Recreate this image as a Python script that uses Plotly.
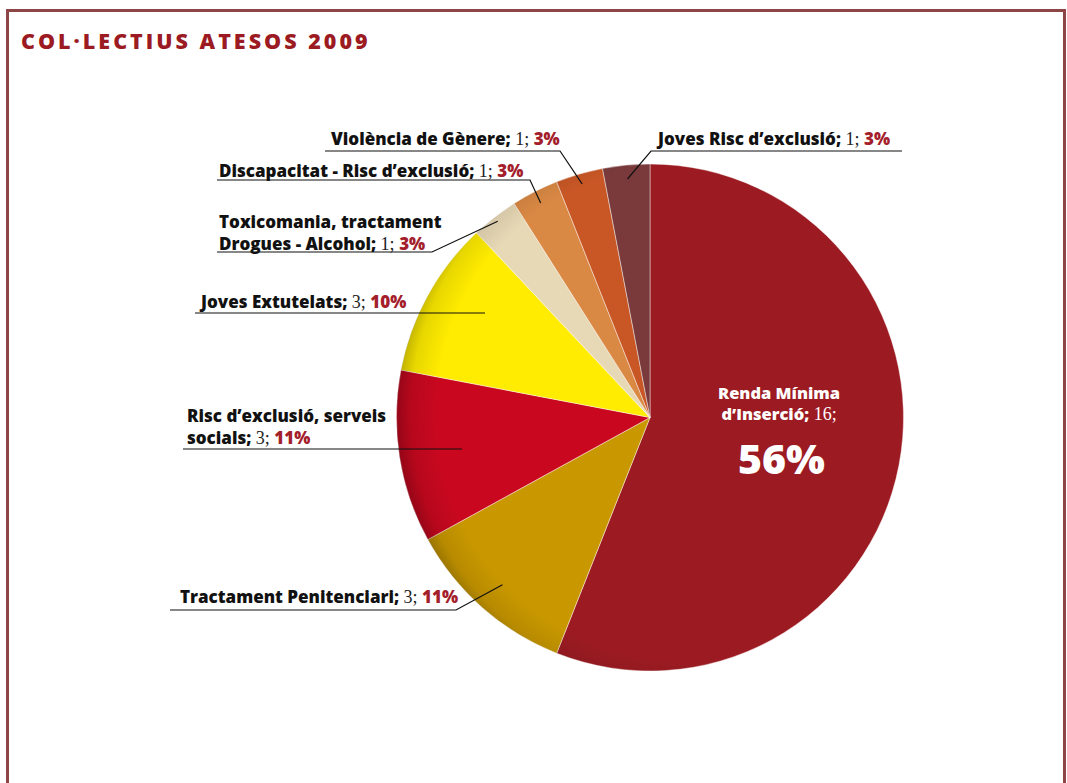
import math, base64
import plotly.graph_objects as go

# ---------------- data ----------------
categories = [
    "Renda Mínima d'Inserció",
    "Tractament Penitenciari",
    "Risc d'exclusió, serveis socials",
    "Joves Extutelats",
    "Toxicomania, tractament Drogues - Alcohol",
    "Discapacitat - Risc d'exclusió",
    "Violència de Gènere",
    "Joves Risc d'exclusió",
]
counts = [16, 3, 3, 3, 1, 1, 1, 1]
percents = [56, 11, 11, 10, 3, 3, 3, 3]
label_names = [
    "Renda Mínima<br>d’Inserció;",
    "Tractament Penitenciari;",
    "Risc d’exclusió, serveis<br>socials;",
    "Joves Extutelats;",
    "Toxicomania, tractament<br>Drogues - Alcohol;",
    "Discapacitat - Risc d’exclusió;",
    "Violència de Gènere;",
    "Joves Risc d’exclusió;",
]
colors = ["#9C1B22", "#C99800", "#C9081F", "#FFEC00",
          "#E8D9B6", "#DA8944", "#C85725", "#7A3A3B"]

# ---------------- layout constants ----------------
W, H = 1067, 783
CX, CY, R = 650, 417.5, 253.5
RED = "#A3202B"
SANS = "Open Sans"
SERIF = "Liberation Serif"
FS = 17

def px(x):
    return x / W

def py(y):
    return 1 - y / H

fig = go.Figure()
fig.add_trace(go.Pie(
    labels=categories, values=percents, sort=False, direction="clockwise",
    rotation=0, textinfo="none", hoverinfo="label+value",
    marker=dict(colors=colors, line=dict(color="rgba(255,255,255,0.55)", width=0.8)),
    domain=dict(x=[px(CX - R), px(CX + R)], y=[py(CY + R), py(CY - R)]),
    showlegend=False,
))

# shading overlay (radial gradient), drawn as an svg image over the pie
svg = """<svg xmlns='http://www.w3.org/2000/svg' width='200' height='200' viewBox='0 0 200 200'>
<defs><radialGradient id='g' gradientUnits='userSpaceOnUse' cx='114' cy='98' r='114'>
<stop offset='0.86' stop-color='#000' stop-opacity='0'/>
<stop offset='0.95' stop-color='#000' stop-opacity='0.09'/>
<stop offset='1' stop-color='#000' stop-opacity='0.26'/>
</radialGradient></defs>
<circle cx='100' cy='100' r='100' fill='url(#g)'/></svg>"""
src = "data:image/svg+xml;base64," + base64.b64encode(svg.encode()).decode()
fig.add_layout_image(dict(source=src, xref="paper", yref="paper",
                          x=px(CX - R), y=py(CY - R), sizex=2 * R / W, sizey=2 * R / H,
                          xanchor="left", yanchor="top", sizing="stretch", layer="above"))

# slice mid-angles (clockwise from 12 o'clock)
total = sum(percents)
mids = []
acc = 0
for v in percents:
    mids.append((acc + v / 2) / total * 2 * math.pi)
    acc += v

def slice_point(i, frac):
    a = mids[i]
    return CX + R * frac * math.sin(a), CY - R * frac * math.cos(a)

# label placement: (text x, text y, underline y, underline x0, underline x1, radius fraction)
placement = {
    1: dict(tx=178, ty=596, uy=610, ux0=170, ux1=456, frac=0.88),
    2: dict(tx=185, ty=426, uy=449, ux0=183, ux1=None, frac=None),
    3: dict(tx=197, ty=301, uy=313, ux0=195, ux1=None, frac=None),
    4: dict(tx=217, ty=232, uy=252, ux0=217, ux1=432, frac=0.98),
    5: dict(tx=217, ty=170, uy=180, ux0=217, ux1=530, frac=0.95),
    6: dict(tx=329, ty=139, uy=151, ux0=325, ux1=560, frac=0.96),
    7: dict(tx=654, ty=139, uy=151, ux0=651, ux1=902, frac=0.945),
}
line_ends_x = {2: 462, 3: 485}

def label_html(i):
    return (f"{label_names[i]}"
            f"<span style='font-family:{SERIF};font-weight:400;color:#222;font-size:18px'> {counts[i]}; </span>"
            f"<span style='color:{RED}'>{percents[i]}%</span>")

for i, p in placement.items():
    fig.add_annotation(x=px(p["tx"]), y=py(p["ty"]), xref="paper", yref="paper",
                       text=label_html(i), showarrow=False, xanchor="left", yanchor="middle",
                       align="left", font=dict(family=SANS, size=FS, color="#111", weight=800))
    if p["frac"] is None:
        x1 = line_ends_x[i]
        fig.add_shape(type="line", xref="paper", yref="paper",
                      x0=px(p["ux0"]), y0=py(p["uy"]), x1=px(x1), y1=py(p["uy"]),
                      line=dict(color="#111", width=1.2))
    else:
        ex, ey = slice_point(i, p["frac"])
        if i == 7:
            path = (f"M {px(p['ux1'])},{py(p['uy'])} L {px(p['ux0'])},{py(p['uy'])} "
                    f"L {px(ex)},{py(ey)}")
        else:
            path = (f"M {px(p['ux0'])},{py(p['uy'])} L {px(p['ux1'])},{py(p['uy'])} "
                    f"L {px(ex)},{py(ey)}")
        fig.add_shape(type="path", xref="paper", yref="paper", path=path,
                      line=dict(color="#111", width=1.2))

# main slice label (inside, white)
fig.add_annotation(x=px(779), y=py(403), xref="paper", yref="paper",
                   text=(f"{label_names[0]}"
                         f"<span style='font-family:{SERIF};font-weight:400;font-size:18px'> {counts[0]};</span>"),
                   showarrow=False, xanchor="center", yanchor="middle", align="center",
                   font=dict(family=SANS, size=16.5, color="white", weight=800))
fig.add_annotation(x=px(781), y=py(458), xref="paper", yref="paper",
                   text=f"{percents[0]}%", showarrow=False,
                   xanchor="center", yanchor="middle",
                   font=dict(family=SANS, size=41, color="white", weight=800))

# title
fig.add_annotation(x=px(19), y=py(40), xref="paper", yref="paper",
                   text="<span style='letter-spacing:3px'>COL·LECTIUS ATESOS 2009</span>",
                   showarrow=False, xanchor="left", yanchor="middle",
                   font=dict(family=SANS, size=21.5, color="#9C1B22", weight=800))

# frame
fig.add_shape(type="rect", xref="paper", yref="paper",
              x0=px(7.5), x1=px(1064.5), y0=-0.05, y1=py(10.5),
              line=dict(color="#8E4545", width=3), fillcolor="rgba(0,0,0,0)")

fig.update_layout(width=W, height=H, margin=dict(l=0, r=0, t=0, b=0),
                  paper_bgcolor="white", plot_bgcolor="white")
fig.write_html("out.html", config={"displayModeBar": False},
               post_script="document.body.style.margin='0';document.body.style.overflow='hidden';")
